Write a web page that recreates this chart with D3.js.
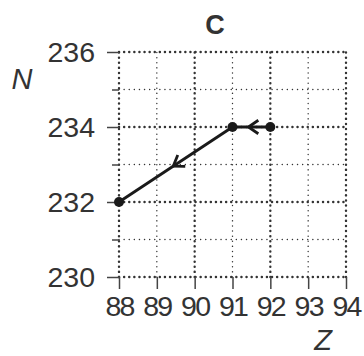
<!DOCTYPE html>
<html>
<head>
<meta charset="utf-8">
<script src="https://d3js.org/d3.v7.min.js"></script>
<style>
  body { margin: 0; background: #fff; }
  text { font-family: "Liberation Sans", Arial, sans-serif; fill: #333; }
</style>
</head>
<body>
<div id="chart"></div>
<script>
// data: path from (92,234) -> (91,234) -> (88,232)
const zValues = [92, 91, 88];
const nValues = [234, 234, 232];
const xTicks = [88, 89, 90, 91, 92, 93, 94];
const yMajor = [230, 232, 234, 236];
const yMinor = [231, 233, 235];

const width = 364, height = 356;

const svg = d3.select("#chart")
  .append("svg")
  .attr("width", width)
  .attr("height", height);

const x = d3.scaleLinear().domain([88, 94]).range([119, 346]);
const y = d3.scaleLinear().domain([230, 236]).range([277, 52]);

// gridlines
const grid = svg.append("g");
xTicks.forEach(v => {
  const major = v % 2 === 0;
  grid.append("line")
    .attr("x1", x(v)).attr("x2", x(v))
    .attr("y1", y(230)).attr("y2", y(236))
    .attr("stroke", "#333")
    .attr("stroke-width", major ? 2.4 : 1.4)
    .attr("stroke-linecap", "round")
    .attr("stroke-dasharray", "0.1,5");
});
yMajor.concat(yMinor).forEach(v => {
  const major = yMajor.includes(v);
  grid.append("line")
    .attr("x1", x(88)).attr("x2", x(94))
    .attr("y1", y(v)).attr("y2", y(v))
    .attr("stroke", "#333")
    .attr("stroke-width", major ? 2.4 : 1.4)
    .attr("stroke-linecap", "round")
    .attr("stroke-dasharray", "0.1,5");
});

// axes (ticks only)
const xAxis = svg.append("g")
  .attr("transform", `translate(0,${y(230)})`)
  .call(d3.axisBottom(x).tickValues(xTicks).tickSize(12).tickPadding(7).tickFormat(d3.format("d")));
const yAxis = svg.append("g")
  .attr("transform", `translate(${x(88)},0)`)
  .call(d3.axisLeft(y).tickValues(yMajor).tickSize(12).tickPadding(12).tickFormat(d3.format("d")));
svg.append("g")
  .attr("transform", `translate(${x(88)},0)`)
  .call(d3.axisLeft(y).tickValues(yMinor).tickSize(7).tickFormat(""));

svg.selectAll(".domain").remove();
svg.selectAll(".tick line").attr("stroke", "#444").attr("stroke-width", 1.5);
xAxis.selectAll("text").attr("font-size", 28.5).attr("fill", "#333").attr("letter-spacing", -1.8);
yAxis.selectAll("text").attr("font-size", 28.5).attr("fill", "#333").attr("dy", "0.34em");

// path
const pts = zValues.map((z, i) => [x(z), y(nValues[i])]);
svg.append("path")
  .attr("d", d3.line()(pts))
  .attr("fill", "none")
  .attr("stroke", "#1a1a1a")
  .attr("stroke-width", 2.8);

// open arrowheads at segment midpoints
for (let i = 0; i < pts.length - 1; i++) {
  const [x0, y0] = pts[i], [x1, y1] = pts[i + 1];
  const ang = Math.atan2(y1 - y0, x1 - x0);
  const mx = (x0 + x1) / 2, my = (y0 + y1) / 2;
  const tx = mx + Math.cos(ang) * 3, ty = my + Math.sin(ang) * 3;
  const L = 12, a = 0.6;
  const p1 = [tx - L * Math.cos(ang - a), ty - L * Math.sin(ang - a)];
  const p2 = [tx - L * Math.cos(ang + a), ty - L * Math.sin(ang + a)];
  svg.append("path")
    .attr("d", `M${p1}L${tx},${ty}L${p2}`)
    .attr("fill", "none")
    .attr("stroke", "#1a1a1a")
    .attr("stroke-width", 2.8);
}

svg.selectAll("circle.pt")
  .data(pts)
  .enter().append("circle")
  .attr("class", "pt")
  .attr("cx", d => d[0])
  .attr("cy", d => d[1])
  .attr("r", 5)
  .attr("fill", "#1a1a1a");

// labels
svg.append("text")
  .attr("x", 215).attr("y", 34)
  .attr("text-anchor", "middle")
  .attr("font-size", 27).attr("font-weight", "bold")
  .text("C");
svg.append("text")
  .attr("x", 22).attr("y", 89)
  .attr("text-anchor", "middle")
  .attr("font-size", 29).attr("font-style", "italic")
  .text("N");
svg.append("text")
  .attr("x", 323).attr("y", 350)
  .attr("text-anchor", "middle")
  .attr("font-size", 29).attr("font-style", "italic")
  .text("Z");
</script>
</body>
</html>
